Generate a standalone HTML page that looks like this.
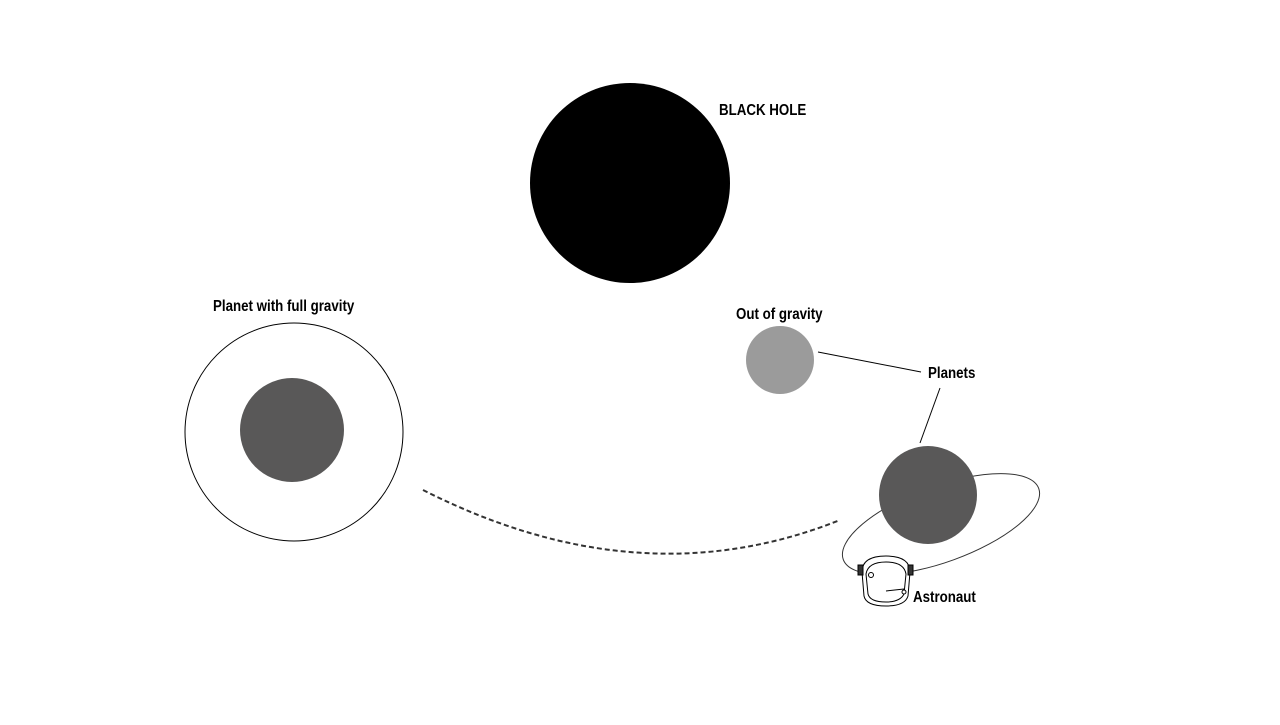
<!DOCTYPE html>
<html><head><style>
body{margin:0;background:#fff;}
svg text{font-family:"Liberation Sans Narrow","Liberation Sans",sans-serif;font-weight:bold;font-size:15.5px;fill:#000;}
</style></head><body>
<svg width="1280" height="720" viewBox="0 0 1280 720" xmlns="http://www.w3.org/2000/svg">
<circle cx="630" cy="183" r="100" fill="#000"/>
<text x="719" y="115" transform="translate(719 0) scale(0.86 1) translate(-719 0)">BLACK HOLE</text>
<text x="213" y="311" transform="translate(213 0) scale(0.86 1) translate(-213 0)">Planet with full gravity</text>
<circle cx="294" cy="432" r="109" fill="none" stroke="#000" stroke-width="1"/>
<circle cx="292" cy="430" r="52" fill="#595858"/>
<text x="736" y="319" transform="translate(736 0) scale(0.86 1) translate(-736 0)">Out of gravity</text>
<circle cx="780" cy="360" r="34" fill="#9b9b9b"/>
<line x1="818" y1="352" x2="921" y2="372" stroke="#000" stroke-width="1"/>
<text x="928" y="378" transform="translate(928 0) scale(0.86 1) translate(-928 0)">Planets</text>
<line x1="940" y1="388" x2="920" y2="443" stroke="#000" stroke-width="1"/>
<path d="M423 490 Q640 600 840 520" fill="none" stroke="#333" stroke-width="2" stroke-dasharray="5 3"/>
<ellipse cx="941" cy="524" rx="104" ry="38" transform="rotate(-20 941 524)" fill="none" stroke="#333" stroke-width="1"/>
<circle cx="928" cy="495" r="49" fill="#595858"/>
<g fill="#fff" stroke="#000" stroke-width="1">
<path d="M862 572 Q862 556 886 556 Q910 556 910 572 L908 596 Q905 606 886 606 Q866 606 864 596 Z"/>
<path d="M866 574 Q868 562 886 562 Q904 562 906 574 L904 594 Q900 602 886 602 Q870 602 868 594 Z"/>
<rect x="858" y="565" width="5" height="10" fill="#333"/>
<rect x="908" y="565" width="5" height="10" fill="#333"/>
<circle cx="871" cy="575" r="2.5"/>
<path d="M886 591 L904 589" fill="none"/>
<circle cx="904" cy="592" r="2"/>
</g>
<text x="913" y="602" transform="translate(913 0) scale(0.86 1) translate(-913 0)">Astronaut</text>
</svg>
</body></html>
